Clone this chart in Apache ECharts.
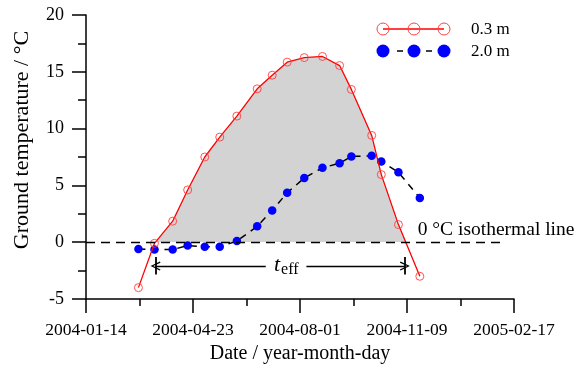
<!DOCTYPE html>
<html>
<head>
<meta charset="utf-8">
<script src="https://cdn.jsdelivr.net/npm/echarts@6/dist/echarts.min.js"></script>
<style>
  html, body { margin: 0; padding: 0; background: #fff; }
  #chart { width: 585px; height: 369px; }
</style>
</head>
<body>
<div id="chart"></div>
<script>
// measurement dates (shared by both depths)
const dates = ["2004-03-03", "2004-03-18", "2004-04-04", "2004-04-18", "2004-05-04", "2004-05-18",
  "2004-06-03", "2004-06-22", "2004-07-06", "2004-07-20", "2004-08-05", "2004-08-22",
  "2004-09-07", "2004-09-18", "2004-10-07", "2004-10-16", "2004-11-01", "2004-11-21"];
// ground temperature at 0.3 m
const temp03 = [-4.0, -0.1, 1.85, 4.6, 7.5, 9.25, 11.1, 13.5, 14.7, 15.85, 16.25, 16.35,
  15.55, 13.45, 9.4, 5.95, 1.55, -3.0];
// ground temperature at 2.0 m
const temp20 = [-0.6, -0.65, -0.65, -0.3, -0.4, -0.4, 0.1, 1.4, 2.8, 4.35, 5.65, 6.55,
  6.95, 7.55, 7.6, 7.1, 6.15, 3.9];
const xStart = "2004-01-14"; // axis origin, ticks every 100 days
const xTicks = [0, 100, 200, 300, 400];
const yTicks = [-5, 0, 5, 10, 15, 20];
// annotations
const isoLineEnd = "2005-02-09";
const isoLabelAt = "2004-11-19";
const tEffSpan = ["2004-03-19", "2004-11-07"];
const tEffGap = ["2004-06-30", "2004-08-07"];
const tEffLevel = -2.1;
const tEffBar = [-1.3, -2.85];

const FONT = "Liberation Serif";
const DAY = 86400000;
const toDay = (s) => (Date.parse(s) - Date.parse(xStart)) / DAY;
const toDate = (d) => new Date(Date.parse(xStart) + d * DAY).toISOString().slice(0, 10);

const pts03 = dates.map((d, i) => [toDay(d), temp03[i]]);
const pts20 = dates.map((d, i) => [toDay(d), temp20[i]]);

const axisStyle = { color: "#000", width: 1.5 };
const chevron = "path://M5,0L10,9L8.8,9.7L5,2.6L1.2,9.7L0,9Z";

const options = {
  animation: false,
  grid: { left: 86, right: 71, top: 15, bottom: 70 },
  xAxis: {
    type: "value",
    min: xTicks[0],
    max: xTicks[xTicks.length - 1],
    interval: xTicks[1] - xTicks[0],
    axisLine: { onZero: false, lineStyle: axisStyle },
    axisTick: { length: 14, lineStyle: axisStyle },
    minorTick: { show: true, splitNumber: 2, length: 7, lineStyle: axisStyle },
    splitLine: { show: false },
    axisLabel: { color: "#000", fontFamily: FONT, fontSize: 17.5, margin: 22, formatter: (v) => toDate(v) },
    name: "Date / year-month-day",
    nameLocation: "middle",
    nameGap: 44,
    nameTextStyle: { color: "#000", fontFamily: FONT, fontSize: 20 },
  },
  yAxis: {
    type: "value",
    min: yTicks[0],
    max: yTicks[yTicks.length - 1],
    interval: yTicks[1] - yTicks[0],
    axisLine: { onZero: false, lineStyle: axisStyle },
    axisTick: { length: 14, lineStyle: axisStyle },
    minorTick: { show: true, splitNumber: 2, length: 8, lineStyle: axisStyle },
    splitLine: { show: false },
    axisLabel: { color: "#000", fontFamily: FONT, fontSize: 18, margin: 22 },
    name: "Ground temperature / °C",
    nameLocation: "middle",
    nameGap: 53,
    nameTextStyle: { color: "#000", fontFamily: FONT, fontSize: 22, padding: [0, 0, 0, 34] },
  },
  series: [
    {
      // grey area above 0 °C under the 0.3 m curve
      name: "fill",
      type: "line",
      data: pts03,
      symbol: "none",
      silent: true,
      z: 1,
      lineStyle: { width: 0 },
      areaStyle: { color: "#d3d3d3", opacity: 1 },
      markLine: {
        silent: true,
        symbol: "none",
        label: { show: false },
        lineStyle: { color: "#000", width: 1.3, type: "solid" },
        data: [
          [
            { coord: [0, 0], lineStyle: { type: [9, 6] } },
            { coord: [toDay(isoLineEnd), 0] },
          ],
          [
            { coord: [toDay(tEffSpan[0]), tEffLevel], symbol: chevron, symbolSize: [9, 10] },
            { coord: [toDay(tEffGap[0]), tEffLevel] },
          ],
          [
            { coord: [toDay(tEffGap[1]), tEffLevel] },
            { coord: [toDay(tEffSpan[1]), tEffLevel], symbol: chevron, symbolSize: [9, 10] },
          ],
          [
            { coord: [toDay(tEffSpan[0]), tEffBar[0]], lineStyle: { width: 1.8 } },
            { coord: [toDay(tEffSpan[0]), tEffBar[1]] },
          ],
          [
            { coord: [toDay(tEffSpan[1]), tEffBar[0]], lineStyle: { width: 1.8 } },
            { coord: [toDay(tEffSpan[1]), tEffBar[1]] },
          ],
        ],
      },
    },
    {
      name: "2.0 m",
      type: "line",
      data: pts20,
      z: 2,
      symbol: "circle",
      symbolSize: 8.5,
      itemStyle: { color: "#0000ff" },
      lineStyle: { color: "#000", width: 1.5, type: [7, 6] },
    },
    {
      name: "0.3 m",
      type: "line",
      data: pts03,
      z: 3,
      symbol: "circle",
      symbolSize: 8,
      itemStyle: { color: "rgba(0,0,0,0)", borderColor: "#ff4040", borderWidth: 0.9 },
      lineStyle: { color: "#ff0000", width: 1.3 },
    },
  ],
};

const chart = echarts.init(document.getElementById("chart"));
chart.setOption(options);

// colour the area only above 0 °C
const H = 369;
const y0 = chart.convertToPixel({ yAxisIndex: 0 }, 0);
const grad = new echarts.graphic.LinearGradient(0, 0, 0, H, [
  { offset: 0, color: "#d3d3d3" },
  { offset: y0 / H, color: "#d3d3d3" },
  { offset: y0 / H, color: "rgba(0,0,0,0)" },
  { offset: 1, color: "rgba(0,0,0,0)" },
], true);

const pT = chart.convertToPixel({ gridIndex: 0 }, [(toDay(tEffGap[0]) + toDay(tEffGap[1])) / 2, tEffLevel]);
const pIso = chart.convertToPixel({ gridIndex: 0 }, [toDay(isoLabelAt), 0]);
const txt = (text, x, y, font, align) => ({
  type: "text", x, y, silent: true,
  style: { text, font, fill: "#000", textAlign: align || "left", textVerticalAlign: "middle" },
});

chart.setOption({
  series: [{ areaStyle: { color: grad } }],
  graphic: [
    // legend
    { type: "line", shape: { x1: 383, y1: 29, x2: 444, y2: 29 }, style: { stroke: "#ff0000", lineWidth: 1.3 } },
    ...[383, 414, 444].map((cx) => ({ type: "circle", shape: { cx, cy: 29, r: 6 }, style: { stroke: "#ff4040", fill: "none", lineWidth: 1 } })),
    { type: "line", shape: { x1: 397, y1: 51, x2: 403, y2: 51 }, style: { stroke: "#000", lineWidth: 1.5 } },
    { type: "line", shape: { x1: 426, y1: 51, x2: 432, y2: 51 }, style: { stroke: "#000", lineWidth: 1.5 } },
    ...[383, 414, 444].map((cx) => ({ type: "circle", shape: { cx, cy: 51, r: 6.5 }, style: { fill: "#0000ff" } })),
    txt("0.3 m", 471, 30, `17px "${FONT}"`),
    txt("2.0 m", 471, 52, `17px "${FONT}"`),
    // annotations
    txt("0 °C isothermal line", pIso[0], pIso[1] - 12, `19.5px "${FONT}"`),
    txt("t", pT[0] - 12, pT[1] - 1, `italic 22px "${FONT}"`),
    txt("eff", pT[0] - 5, pT[1] + 4, `16px "${FONT}"`),
  ],
});

window.addEventListener("resize", () => chart.resize());
</script>
</body>
</html>
